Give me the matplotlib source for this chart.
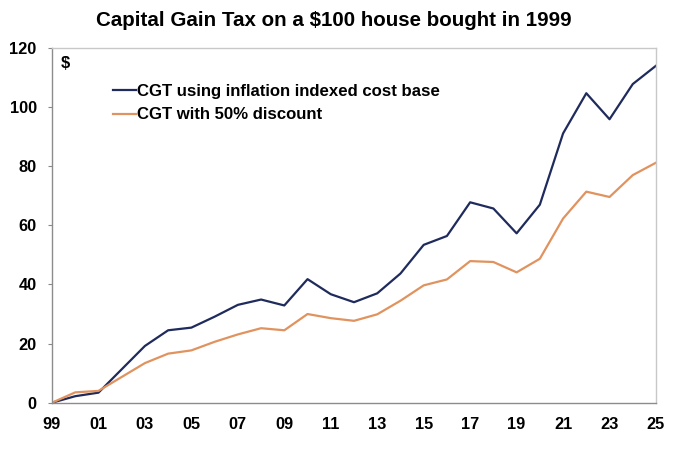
import matplotlib
matplotlib.use("Agg")
import matplotlib.pyplot as plt

years = list(range(1999, 2026))
cgt_indexed = [0, 2.2, 3.4, 11.3, 19.2, 24.5, 25.4, 29.1, 33.1, 34.9, 32.9, 41.8, 36.7, 34.0,
               37.0, 43.7, 53.4, 56.4, 67.8, 65.7, 57.3, 67.0, 91.1, 104.7, 95.9, 107.8, 114.0]
cgt_discount = [0, 3.5, 4.0, 8.7, 13.4, 16.6, 17.7, 20.6, 23.1, 25.2, 24.5, 30.0, 28.6, 27.7,
                29.9, 34.5, 39.7, 41.7, 47.9, 47.6, 44.1, 48.7, 62.3, 71.4, 69.6, 77.0, 81.2]
xtick_years = list(range(1999, 2026, 2))
xtick_labels = [f"{y % 100:02d}" for y in xtick_years]
yticks = [0, 20, 40, 60, 80, 100, 120]

label_indexed = "CGT using inflation indexed cost base"
label_discount = "CGT with 50% discount"
title = "Capital Gain Tax on a $100 house bought in 1999"

plt.rcParams['font.family'] = ['Liberation Sans', 'DejaVu Sans']

fig = plt.figure(figsize=(6.8, 4.55), dpi=100)
ax = fig.add_axes([52/680, 1 - 402.7/455, (656-52)/680, (402.7-48)/455])

navy = "#1f2b5c"
orange = "#e0935e"
ax.plot(years, cgt_indexed, color=navy, lw=1.6, label=label_indexed)
ax.plot(years, cgt_discount, color=orange, lw=1.6, label=label_discount)

ax.set_xlim(1999, 2025)
ax.set_ylim(0, 120)
ax.set_xticks(xtick_years)
ax.set_xticklabels(xtick_labels)
ax.set_yticks(yticks)
for lab in ax.get_xticklabels() + ax.get_yticklabels():
    lab.set_fontweight('bold')
    lab.set_fontsize(11.8)
ax.tick_params(axis='x', length=0, pad=10)
ax.tick_params(axis='y', length=3, width=0.8, color="#888888", pad=8)

for side in ['left', 'bottom']:
    ax.spines[side].set_color("#8c8c8c")
    ax.spines[side].set_linewidth(1.0)
for side in ['top', 'right']:
    ax.spines[side].set_color("#c8c8c8")
    ax.spines[side].set_linewidth(1.0)

ax.text((65-52)/604, (402.7-63)/354.7, "$", transform=ax.transAxes, fontsize=11.8,
        fontweight='bold', ha='center', va='center')

leg = ax.legend(loc='upper left', bbox_to_anchor=((113-52)/604, (402.7-84)/354.7),
                frameon=False, handlelength=1.35, handletextpad=0.1,
                borderaxespad=0, borderpad=0, labelspacing=0.5,
                prop={'weight': 'bold', 'size': 12.1})

fig.text(334/680, 1 - 20/455, title, ha='center', va='center',
         fontsize=14.8, fontweight='bold')

fig.savefig("out.png", dpi=100)
